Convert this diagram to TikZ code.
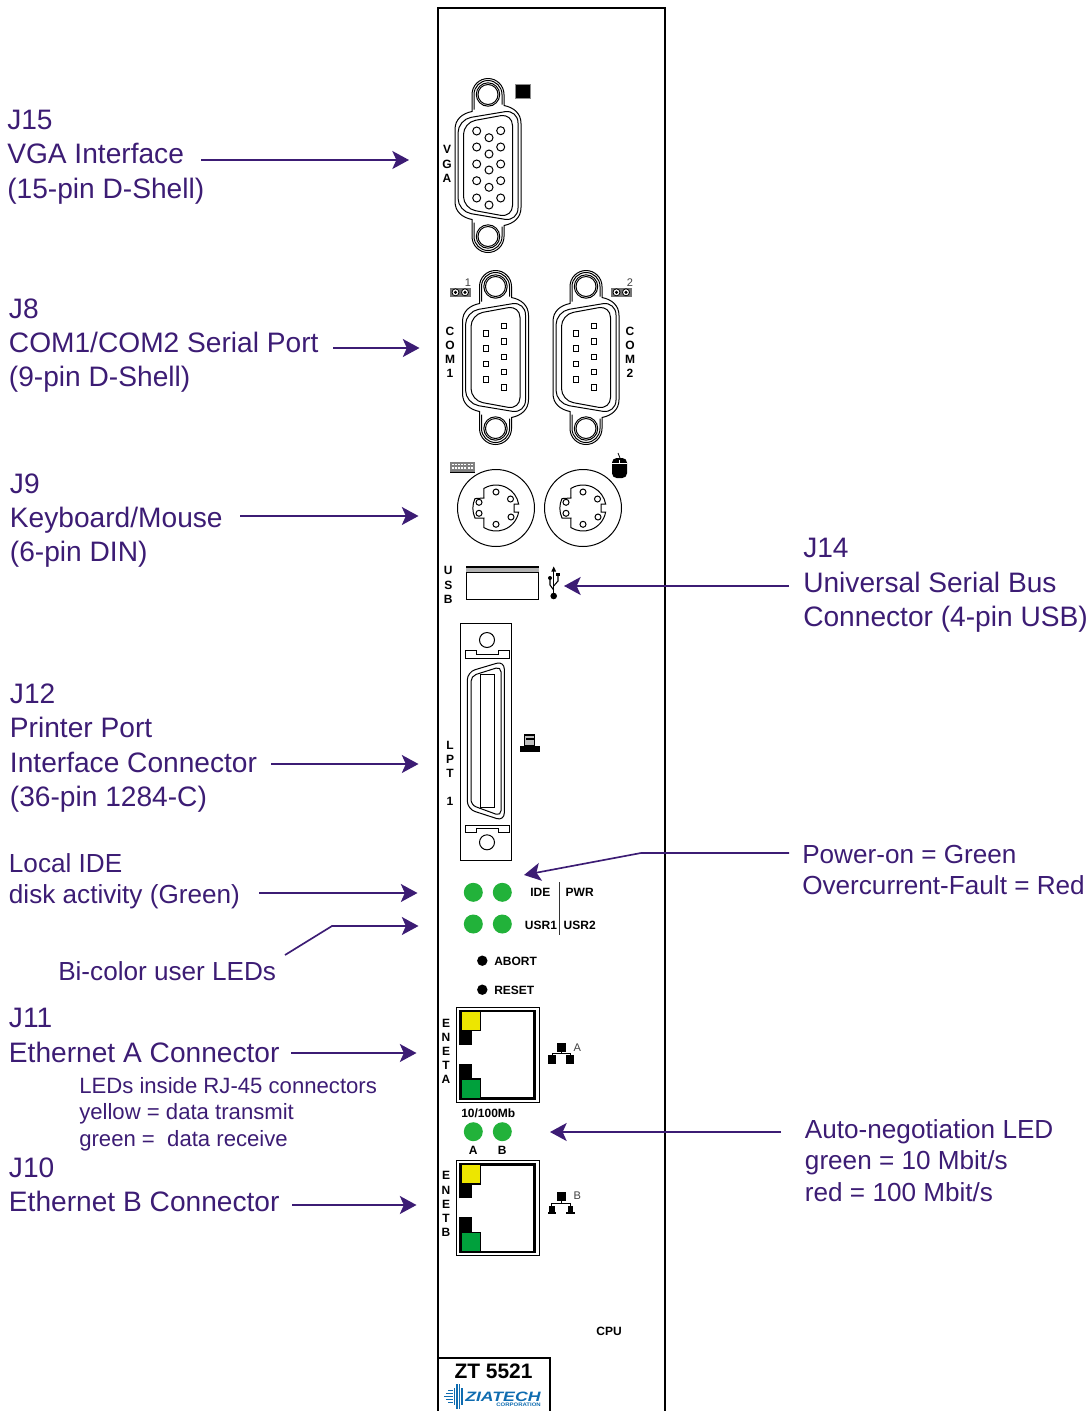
\documentclass[tikz,border=0pt]{standalone}
\usepackage{fontspec}
\usepackage{graphicx}
\setmainfont{Liberation Sans}
\usetikzlibrary{arrows.meta}
\definecolor{lblpurple}{HTML}{3C1C74}
\definecolor{ledgreen}{HTML}{22B23A}
\definecolor{rjgreen}{HTML}{00A03C}
\definecolor{rjyellow}{HTML}{EDE600}
\definecolor{logoblue}{HTML}{0F6CB0}
\tikzset{
  big/.style={inner sep=0pt,anchor=west,align=left,text=lblpurple,font=\fontsize{21.1pt}{25.75pt}\selectfont},
  med/.style={inner sep=0pt,anchor=west,align=left,text=lblpurple,font=\fontsize{19.6pt}{23.5pt}\selectfont},
  sml/.style={inner sep=0pt,anchor=west,align=left,text=lblpurple,font=\fontsize{16.6pt}{20pt}\selectfont},
  tag/.style={inner sep=0pt,align=center,text=black,font=\fontsize{9pt}{10.65pt}\selectfont\bfseries},
  gtag/.style={inner sep=0pt,text=black!75,font=\fontsize{8.3pt}{9pt}\selectfont},
  conn/.style={draw=lblpurple,line width=1.25pt,-{Stealth[length=12.5pt,width=13.5pt,inset=3pt]}},
  thin line/.style={line width=.75pt,draw=black},
  led/.style={fill=ledgreen,draw=none},
  panel/.style={line width=1.5pt,draw=black}
}
\newcommand{\dshellbody}[2]{%
\begin{scope}[shift={(#1,#2)},thin line]
  \draw (-16,-71) arc[start angle=180,end angle=360,radius=16] -- (16,-60)
     .. controls (26,-58) and (33,-52) .. (33,-42) -- (33,42)
     .. controls (33,52) and (26,58) .. (16,60) -- (16,71)
     arc[start angle=0,end angle=180,radius=16] -- (-16,54)
     .. controls (-26,52) and (-33,46) .. (-33,36) -- (-33,-36)
     .. controls (-33,-46) and (-26,-52) .. (-16,-54) -- cycle;
  \draw (-14,-56) -- (-14,-71) arc[start angle=180,end angle=360,radius=14] -- (14,-61);
  \draw (14,61) -- (14,71) arc[start angle=0,end angle=180,radius=14] -- (-14,57);
  \foreach \s in {-71,71}{\draw (0,\s) circle[radius=11.7]; \draw (0,\s) circle[radius=10];}
  \draw[rounded corners=10] (-30,-46) -- (30,-56) -- (30,56) -- (-30,46) -- cycle;
  \draw[rounded corners=9] (-24.5,-43) -- (24.5,-52) -- (24.5,52) -- (-24.5,43) -- cycle;
\end{scope}}
\newcommand{\compins}[3]{%
 \foreach \y in {333.3,348.6,364,379.3}{\draw[thin line] (#1-2.7,\y-2.7) rectangle (#1+2.7,\y+2.7);}
 \foreach \y in {326,341.3,356.7,372,387.3}{\draw[thin line] (#2-2.7,\y-2.7) rectangle (#2+2.7,\y+2.7);}}
\newcommand{\din}[2]{%
\begin{scope}[shift={(#1,#2)},thin line]
  \draw (0,0) circle[radius=38.5];
  \draw (-12.2,-19.5) arc[start angle=238,end angle=350,radius=23] -- ++(-4.5,0) -- ++(0,8) -- ++(4.5,0)
     arc[start angle=10,end angle=122,radius=23] -- (-12,10) -- (-21,10)
     arc[start angle=155,end angle=205,radius=23] -- (-12,-10) -- cycle;
  \foreach \p in {(0,-16),(-17,-5.7),(-17,5.3),(0,16.3),(15,9),(14.5,-9)}{\draw \p circle[radius=3];}
\end{scope}}
\newcommand{\rjport}[1]{%
\begin{scope}[yshift=#1*-.75pt]
  \draw[thin line] (456.7,1007.3) rectangle (539.3,1102.3);
  \draw[line width=1.9pt] (460.5,1045) -- (460.5,1011) -- (534.5,1011) -- (534.5,1098.5) -- (460.5,1098.5) -- (460.5,1064);
  \fill[black] (460,1030) rectangle (471.5,1045);
  \fill[black] (460,1064) rectangle (471.5,1080);
  \draw[fill=rjyellow,line width=1.1pt] (460.8,1011.3) rectangle (480.5,1030.6);
  \draw[fill=rjgreen,line width=1.1pt] (460.8,1079) rectangle (480.5,1098.3);
\end{scope}}
\begin{document}
\begin{tikzpicture}[x=.75pt,y=-.75pt]
\useasboundingbox (0,0) rectangle (1092,1411);
% panel
\draw[panel] (438.4,1411) -- (438.4,7.5) -- (665.4,7.5) -- (665.4,1411);
% VGA
\dshellbody{488}{165.5}
\foreach \x/\y in {476.7/131,476.7/147,476.7/164,476.7/180.7,476.7/198,
  489/137.7,489/154,489/170,489/187.3,489/205,
  500.7/130.7,500.7/147,500.7/164,500.7/180.7,500.7/198}{\draw[thin line] (\x,\y) circle[radius=4];}
\fill[black!45] (515,84) rectangle (531,99.3);
\fill[black] (516.3,85.3) rectangle (529.7,98);
\node[tag] (vga) at (447,164) {V\\G\\A};
% COM
\dshellbody{495.5}{357.5}
\dshellbody{586}{357.5}
\compins{486}{504}{}
\compins{575.7}{593.7}{}
\node[tag] (com1) at (450,352.5) {C\\O\\M\\1};
\node[tag] (com2) at (630,352.5) {C\\O\\M\\2};
\foreach \x in {449.5,610.5}{
  \fill[black!55] (\x,287.5) rectangle (\x+21.5,297);
  \draw[line width=.6pt,fill=white] (\x+6,292.3) circle[radius=3.5];
  \draw[line width=.6pt,fill=white] (\x+15.5,292.3) circle[radius=3.5];
  \fill[black] (\x+6,292.3) circle[radius=1.7];
  \fill[black] (\x+15.5,292.3) circle[radius=1.7];}
\node[gtag] (n1) at (468,283) {1};
\node[gtag] (n2) at (630,283) {2};
% keyboard and mouse
\fill[black!50] (450,461.5) rectangle (475,472.5);
\draw[black,line width=.6pt] (450,472.5) -- (475,472.5);
\draw[white,line width=1pt,dash pattern=on 1.6pt off .8pt] (451.5,464.5) -- (473.5,464.5);
\draw[white,line width=1pt,dash pattern=on 1.6pt off .8pt] (451.5,468) -- (473.5,468);
\din{496}{508}
\din{583}{508}
\draw[line width=.6pt] (618,453) -- (620,458);
\fill[black,rounded corners=3.5] (612,458) rectangle (627,478);
\draw[white,line width=.6pt] (612,463.5) -- (627,463.5);
\draw[white,line width=.6pt] (619.5,459.5) -- (619.5,463.5);
% USB
\draw[thin line,fill=white] (466,566.7) rectangle (538.7,599.3);
\fill[black!30] (466,567) rectangle (538.7,572);
\draw[thin line] (466,572) -- (538.7,572);
\draw[line width=1.2pt] (466,567) -- (538.7,567);
\node[tag] (usb) at (448.3,585) {U\\S\\B};
\draw[line width=.8pt] (553.7,570) -- (553.7,596);
\fill (553.7,566.5) -- (551.3,571.5) -- (556.1,571.5) -- cycle;
\draw[line width=.8pt] (553.7,590) -- (550,585) -- (550,578);
\draw[line width=.8pt] (553.7,586) -- (558,581) -- (558,575);
\fill (550,578) circle[radius=2];
\fill (556.3,572.5) rectangle (559.7,576);
\fill (553.7,596) circle[radius=3.3];
% LPT
\draw[thin line] (460.7,623.7) rectangle (511.7,860.7);
\draw[thin line] (487,640) circle[radius=7.5];
\draw[thin line] (487,842.3) circle[radius=7.5];
\draw[thin line] (465,650.7) -- (476.7,650.7) -- (476.7,654) -- (498,654) -- (498,650.7) -- (509,650.7) -- (509,658) -- (465,658) -- cycle;
\draw[thin line] (465,825) -- (509,825) -- (509,832.3) -- (498,832.3) -- (498,828.3) -- (476.7,828.3) -- (476.7,832.3) -- (465,832.3) -- cycle;
\draw[thin line,rounded corners=6] (467.3,672) -- (504.3,661) -- (504.3,821) -- (467.3,809) -- cycle;
\draw[thin line,rounded corners=4] (471,676) -- (501,666.5) -- (501,816) -- (471,805) -- cycle;
\draw[thin line] (480,674.3) rectangle (494.7,807.7);
\node[tag] (lpt) at (450,773.3) {L\\P\\T\\\mbox{}\\1};
\fill (520,746) rectangle (540,752);
\draw[line width=1pt,fill=black!25] (524.5,735) rectangle (534.5,746);
\draw[line width=1pt] (526,739) -- (534.5,739);
% LEDs
\foreach \n/\x/\y in {a/473.3/892.3,b/502.3/892.3,c/473.3/924,d/502.3/924,e/473.3/1131.7,f/502.3/1131.7}{\fill[led] (\x,\y) circle[radius=9.5];}
\draw[line width=.7pt,draw=black!80] (559.3,882) -- (559.3,934.7);
\node[tag] (ide) at (540.3,892) {IDE};
\node[tag] (pwr) at (579.7,892) {PWR};
\node[tag] (usr1) at (541,925) {USR1};
\node[tag] (usr2) at (579.7,925) {USR2};
\fill (482.3,960.7) circle[radius=5.2];
\fill (482.3,989.7) circle[radius=5.2];
\node[tag,anchor=west] (abort) at (494,961) {ABORT};
\node[tag,anchor=west] (reset) at (494,990) {RESET};
% Ethernet
\rjport{0}
\rjport{153.4}
\node[tag] (eneta) at (446,1051.3) {E\\N\\E\\T\\A};
\node[tag] (enetb) at (446,1204.2) {E\\N\\E\\T\\B};
\fill (557.3,1042.7) rectangle (565.7,1051.7);
\fill (547.7,1055) rectangle (556,1064.3);
\fill (566,1055) rectangle (574.3,1064.3);
\draw[line width=.6pt] (561.5,1051.7) -- (561.5,1053.5);
\draw[line width=.6pt] (552,1055) -- (552,1053.5) -- (570,1053.5) -- (570,1055);
\node[gtag] (neta) at (577.3,1047.3) {A};
\fill (557.3,1191.7) rectangle (565.7,1201);
\draw[line width=.6pt] (561.5,1201) -- (561.5,1203.3);
\draw[line width=.6pt] (551.7,1206) -- (551.7,1203.3) -- (570.3,1203.3) -- (570.3,1206);
\fill (549,1205.5) rectangle (554.5,1212);
\fill (547.7,1212) rectangle (556,1214);
\fill (567.5,1205.5) rectangle (573,1212);
\fill (566.2,1212) rectangle (574.5,1214);
\node[gtag] (netb) at (577.3,1196) {B};
\node[tag] (speed) at (488.3,1113.3) {10/100Mb};
\node[tag] (ledA) at (473.3,1150) {A};
\node[tag] (ledB) at (502.3,1150) {B};
\node[tag] (cpu) at (609,1331) {CPU};
% ZT box
\draw[panel] (438.4,1357.7) -- (550,1357.7) -- (550,1411);
\node[inner sep=0pt,font=\fontsize{15.7pt}{18pt}\selectfont\bfseries] (zt) at (493.5,1371.5) {ZT 5521};
\foreach \s/\y in {448/1390.5,446/1393.5,444/1396.5,446/1399.5,448/1402.5}{\draw[logoblue,line width=.8pt] (\s,\y) -- (453,\y);}
\foreach \x/\t/\b in {454.5/1388/1405,457/1384/1409,459.5/1384/1409,462/1388/1405}{\draw[logoblue,line width=.9pt] (\x,\t) -- (\x,\b);}
\node[inner sep=0pt,anchor=west,text=logoblue,font=\fontsize{10.2pt}{12pt}\selectfont\bfseries\itshape] (logo) at (465,1396.5) {\scalebox{1.3}[1]{ZIATECH}};
\node[inner sep=0pt,anchor=east,text=logoblue,font=\fontsize{3.8pt}{4.5pt}\selectfont\bfseries] (corp) at (541,1404.3) {\scalebox{1.18}[1]{CORPORATION}};
% labels
\node[big] (j15) at (7,157) {J15\\VGA Interface\\(15-pin D-Shell)};
\node[big] (j8) at (8.7,345.5) {J8\\COM1/COM2 Serial Port\\(9-pin D-Shell)};
\node[big] (j9) at (9.7,520.5) {J9\\Keyboard/Mouse\\(6-pin DIN)};
\node[big] (j14) at (803,585.5) {J14\\Universal Serial Bus\\Connector (4-pin USB)};
\node[big] (j12) at (9.7,748) {J12\\Printer Port\\Interface Connector\\(36-pin 1284-C)};
\node[med] (ide l) at (8.7,881.5) {Local IDE\\disk activity (Green)};
\node[med] (pwr l) at (802,870) {Power-on = Green\\Overcurrent-Fault = Red};
\node[med] (bi) at (58,971) {Bi-color user LEDs};
\node[big] (j11) at (8.7,1035.5) {J11\\Ethernet A Connector};
\node[sml] (rj) at (79,1114) {LEDs inside RJ-45 connectors\\yellow = data transmit\\green =~ data receive};
\node[big] (j10) at (8.7,1184.5) {J10\\Ethernet B Connector};
\node[med] (auto) at (804.7,1160.5) {Auto-negotiation LED\\green = 10 Mbit/s\\red = 100 Mbit/s};
% connector ends
\foreach \n/\x/\y in {a15/201/160,b15/409/160,a8/333/348,b8/419.5/348,a9/240/516,b9/418.5/516,
  a14/789/586,b14/564/586,a12/271/764,b12/418.5/764,ap/789/853,kp/641/853,bp/524/875,
  ai/259/893,bi/417.5/893,au/285/955,ku/332/926,bu/418.5/926,a11/291/1053,b11/416.5/1053,
  an/781/1132,bn/550/1132,a10/292/1205,b10/416.5/1205}{\coordinate (\n) at (\x,\y);}
\draw[conn] (a15) -- (b15);
\draw[conn] (a8) -- (b8);
\draw[conn] (a9) -- (b9);
\draw[conn] (a14) -- (b14);
\draw[conn] (a12) -- (b12);
\draw[conn] (ap) -- (kp) -- (bp);
\draw[conn] (ai) -- (bi);
\draw[conn] (au) -- (ku) -- (bu);
\draw[conn] (a11) -- (b11);
\draw[conn] (an) -- (bn);
\draw[conn] (a10) -- (b10);
\end{tikzpicture}
\end{document}
